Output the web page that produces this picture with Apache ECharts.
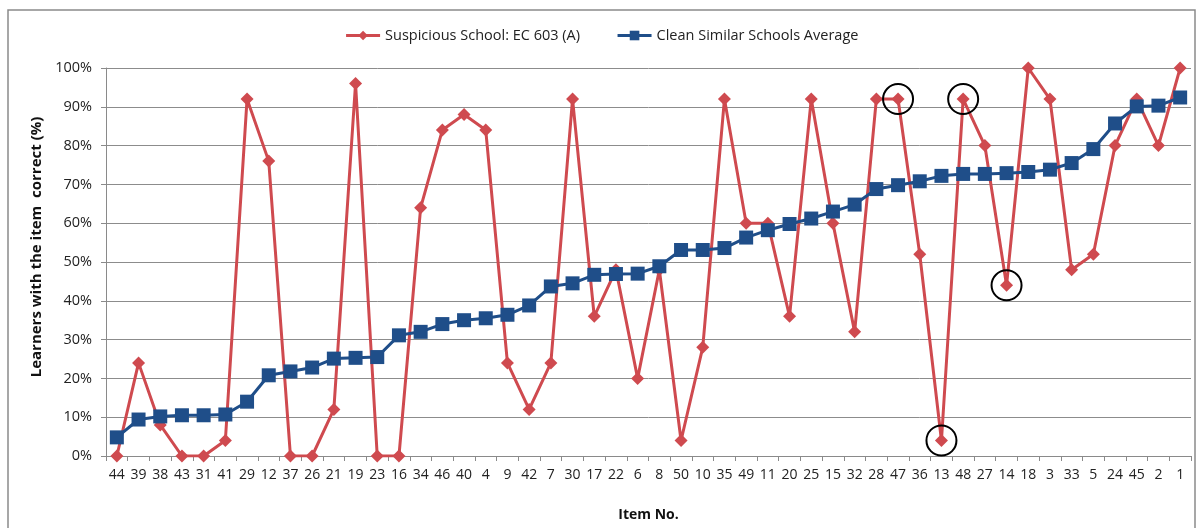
<!DOCTYPE html>
<html>
<head>
<meta charset="utf-8">
<script src="https://cdn.jsdelivr.net/npm/echarts@6/dist/echarts.min.js"></script>
<style>
  html, body { margin: 0; padding: 0; background: #fff; }
  #chart { width: 1203px; height: 528px; }
</style>
</head>
<body>
<div id="chart"></div>
<script>
// item numbers, sorted by the clean schools' average
const items = ['44','39','38','43','31','41','29','12','37','26','21','19','23','16','34','46','40','4','9','42',
  '7','30','17','22','6','8','50','10','35','49','11','20','25','15','32','28','47','36','13','48',
  '27','14','18','3','33','5','24','45','2','1']

// Suspicious School: EC 603 (A)
const suspicious = [0,24,8,0,0,4,92,76,0,0,12,96,0,0,64,84,88,84,24,12,
  24,92,36,48,20,48,4,28,92,60,60,36,92,60,32,92,92,52,4,92,
  80,44,100,92,48,52,80,92,80,100]

// Clean Similar Schools Average
const cleanAvg = [4.8,9.4,10.2,10.5,10.5,10.7,14,20.8,21.8,22.8,25.1,25.3,25.5,31.1,32,34,35,35.5,36.4,38.8,
  43.7,44.5,46.7,46.9,47,48.9,53.1,53.1,53.6,56.3,58.2,59.8,61.2,63,64.8,68.8,69.8,70.8,72.2,72.7,
  72.7,72.9,73.2,73.8,75.5,79.1,85.7,90.1,90.3,92.4]

// items circled on the original chart
const circled = ['47','48','14','13']

const red = '#cf4a4f'
const blue = '#1f4e89'
const font = 'Open Sans'

const chart = echarts.init(document.getElementById('chart'))

chart.setOption({
  animation: false,
  textStyle: { fontFamily: font },
  graphic: [{
    type: 'rect',
    shape: { x: 8, y: 10, width: 1187, height: 540 },
    style: { fill: 'none', stroke: '#8a8a8a', lineWidth: 1.5 },
    silent: true
  }],
  legend: {
    top: 23,
    left: 'center',
    itemWidth: 34,
    itemHeight: 12,
    itemGap: 36,
    lineStyle: { width: 3 },
    textStyle: { fontFamily: font, fontSize: 14.5, color: '#222' },
    data: ['Suspicious School: EC 603 (A)', 'Clean Similar Schools Average']
  },
  grid: { left: 106, right: 12, top: 68, bottom: 72 },
  xAxis: {
    type: 'category',
    data: items,
    boundaryGap: true,
    name: 'Item No.',
    nameLocation: 'middle',
    nameGap: 52,
    nameTextStyle: { fontFamily: font, fontSize: 14, fontWeight: 'bold', color: '#111' },
    axisLine: { lineStyle: { color: '#8a8a8a', width: 1 } },
    axisTick: { show: true, alignWithLabel: false, length: 5, lineStyle: { color: '#8a8a8a' } },
    axisLabel: { interval: 0, margin: 12, fontFamily: font, fontSize: 14, color: '#222' }
  },
  yAxis: {
    type: 'value',
    min: 0,
    max: 100,
    interval: 10,
    name: 'Learners with the item  correct (%)',
    nameLocation: 'middle',
    nameGap: 54,
    nameTextStyle: { fontFamily: font, fontSize: 15, fontWeight: 'bold', color: '#111', padding: [0, 0, 0, 30] },
    axisLine: { show: true, lineStyle: { color: '#8a8a8a', width: 1 } },
    axisTick: { show: true, length: 5, lineStyle: { color: '#8a8a8a' } },
    axisLabel: { margin: 14, fontFamily: font, fontSize: 14.5, color: '#222', formatter: v => v + '%' },
    splitLine: { lineStyle: { color: '#8c8c8c', width: 1 } }
  },
  series: [
    {
      name: 'Suspicious School: EC 603 (A)',
      type: 'line',
      data: suspicious,
      symbol: 'diamond',
      symbolSize: 13,
      lineStyle: { color: red, width: 3 },
      itemStyle: { color: red },
      z: 2,
      markPoint: {
        symbol: 'circle',
        symbolSize: 30,
        silent: true,
        label: { show: false },
        itemStyle: { color: 'rgba(0,0,0,0)', borderColor: '#000', borderWidth: 2 },
        data: circled.map(c => ({ coord: [c, suspicious[items.indexOf(c)]] }))
      }
    },
    {
      name: 'Clean Similar Schools Average',
      type: 'line',
      data: cleanAvg,
      symbol: 'rect',
      symbolSize: 14,
      lineStyle: { color: blue, width: 3 },
      itemStyle: { color: blue },
      z: 3
    }
  ]
})
</script>
</body>
</html>
